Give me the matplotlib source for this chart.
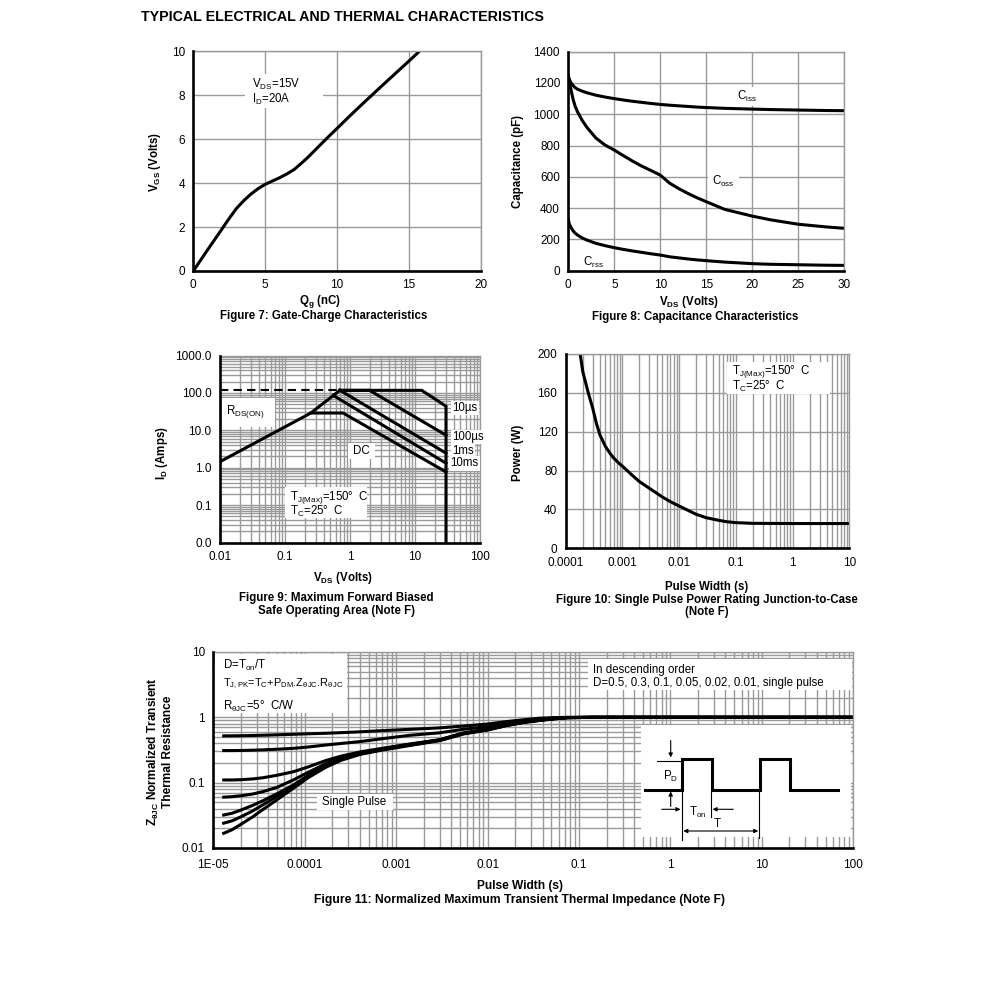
import numpy as np
import matplotlib
matplotlib.use('Agg')
import matplotlib.pyplot as plt
from matplotlib.ticker import LogLocator, NullFormatter, FixedLocator, FixedFormatter
from matplotlib.patches import Rectangle

plt.rcParams['font.family'] = ['Liberation Sans', 'DejaVu Sans']
plt.rcParams['mathtext.fontset'] = 'custom'
plt.rcParams['mathtext.rm'] = 'Liberation Sans'
plt.rcParams['mathtext.it'] = 'Liberation Sans'
plt.rcParams['mathtext.bf'] = 'Liberation Sans:bold'
plt.rcParams['mathtext.default'] = 'regular'

# ---------------- data ----------------
# Figure 7: gate charge
qg = [0, 1, 2, 2.5, 3, 3.5, 4, 4.5, 5, 5.5, 6, 6.5, 7, 7.5, 8, 8.5, 9, 9.4, 10, 11, 12, 12.4, 13, 14, 15, 15.7]
vgs = [0, 0.97, 1.92, 2.4, 2.85, 3.2, 3.5, 3.75, 3.95, 4.1, 4.25, 4.42, 4.62, 4.9, 5.2, 5.53, 5.86, 6.12,
       6.5, 7.14, 7.76, 8.0, 8.37, 8.97, 9.57, 10.0]

# Figure 8: capacitance
vds = [0, 0.1, 0.25, 0.5, 0.75, 1, 1.5, 2, 3, 4, 5, 6, 7, 8, 9, 10, 11, 12, 13, 14, 15, 17, 20, 22, 25, 28, 30]
ciss = [1245, 1225, 1205, 1185, 1170, 1160, 1148, 1138, 1122, 1110, 1100, 1091, 1083, 1076, 1069, 1063,
        1058, 1054, 1050, 1046, 1043, 1038, 1033, 1030, 1027, 1024, 1023]
coss = [1245, 1210, 1170, 1100, 1050, 1016, 962, 918, 848, 803, 771, 735, 700, 668, 640, 611,
        560, 525, 494, 466, 441, 392, 349, 325, 297, 280, 271]
crss = [330, 300, 281, 256, 240, 228, 210, 196, 175, 160, 147, 136, 126, 117, 108, 100,
        89, 82, 75, 69, 64, 55, 45, 41, 38, 35, 34]

# Figure 9: safe operating area
rds_v, rds_i = [0.01, 0.25, 0.7], [1.45, 29, 117]
lim_v, lim_i = [0.01, 0.62], [117, 117]
us10_v, us10_i = [0.7, 12.7, 30, 30], [117, 117, 44, 0.01]
us100_v, us100_i = [0.7, 2.0, 30], [117, 117, 7.4]
ms1_v, ms1_i = [0.7, 30], [117, 2.45]
ms10_v, ms10_i = [0.55, 30], [86, 1.32]
dc_v, dc_i = [0.25, 0.78, 30], [29, 29, 0.77]

# Figure 10: single pulse power
pw_t = [1.8e-4, 2e-4, 2.5e-4, 3e-4, 3.5e-4, 4e-4, 5e-4, 6e-4, 7e-4, 8.5e-4, 1e-3, 1.5e-3, 2e-3, 3e-3,
        5e-3, 7e-3, 1e-2, 1.5e-2, 2e-2, 3e-2, 5e-2, 7e-2, 0.1, 0.2, 1, 10]
pw_p = [200, 182, 160, 144, 128, 117, 105, 98, 93, 88, 84.5, 75, 68.6, 61.7,
        53, 48, 43.5, 38.5, 35, 31.5, 28.8, 27.3, 26.4, 25.7, 25.5, 25.5]

# Figure 11: transient thermal impedance
zt = [1.3e-5, 1.6e-5, 2e-5, 2.7e-5, 3.5e-5, 5e-5, 7.5e-5, 1.1e-4, 1.7e-4, 2.5e-4, 4e-4, 7e-4, 1.4e-3,
      3e-3, 5.4e-3, 1e-2, 1.6e-2, 2.5e-2, 3.7e-2, 5.5e-2, 7.5e-2, 0.15, 100]
z_d05 = [0.52, 0.521, 0.523, 0.527, 0.532, 0.54, 0.55, 0.56, 0.57, 0.583, 0.60, 0.625, 0.655,
         0.69, 0.735, 0.79, 0.86, 0.92, 0.97, 0.99, 1.0, 1.0, 1.0]
z_d03 = [0.31, 0.31, 0.311, 0.314, 0.318, 0.325, 0.335, 0.352, 0.377, 0.398, 0.425, 0.47, 0.53,
         0.58, 0.655, 0.72, 0.81, 0.88, 0.94, 0.98, 0.995, 1.0, 1.0]
z_d01 = [0.11, 0.11, 0.111, 0.114, 0.119, 0.13, 0.147, 0.175, 0.218, 0.255, 0.295, 0.335, 0.39,
         0.455, 0.575, 0.66, 0.765, 0.85, 0.91, 0.965, 0.99, 1.0, 1.0]
z_d005 = [0.06, 0.061, 0.063, 0.067, 0.073, 0.085, 0.11, 0.145, 0.195, 0.24, 0.285, 0.33, 0.385,
          0.452, 0.57, 0.655, 0.76, 0.848, 0.908, 0.962, 0.99, 1.0, 1.0]
z_d002 = [0.032, 0.034, 0.038, 0.045, 0.053, 0.068, 0.092, 0.13, 0.183, 0.23, 0.28, 0.325, 0.38,
          0.448, 0.565, 0.65, 0.755, 0.845, 0.905, 0.958, 0.99, 1.0, 1.0]
z_d001 = [0.024, 0.026, 0.030, 0.037, 0.046, 0.062, 0.087, 0.125, 0.178, 0.225, 0.275, 0.32, 0.375,
          0.445, 0.56, 0.645, 0.75, 0.84, 0.9, 0.955, 0.99, 1.0, 1.0]
z_single = [0.0168, 0.019, 0.023, 0.030, 0.039, 0.055, 0.082, 0.12, 0.172, 0.22, 0.27, 0.315, 0.37,
            0.44, 0.555, 0.64, 0.745, 0.835, 0.895, 0.95, 0.99, 1.0, 1.0]

# tick labels
f7_xt, f7_yt = [0, 5, 10, 15, 20], [0, 2, 4, 6, 8, 10]
f8_xt, f8_yt = [0, 5, 10, 15, 20, 25, 30], [0, 200, 400, 600, 800, 1000, 1200, 1400]
f9_xt, f9_xl = [0.01, 0.1, 1, 10, 100], ['0.01', '0.1', '1', '10', '100']
f9_yt, f9_yl = [0.01, 0.1, 1, 10, 100, 1000], ['0.0', '0.1', '1.0', '10.0', '100.0', '1000.0']
f10_xt, f10_xl = [1e-4, 1e-3, 1e-2, 0.1, 1, 10], ['0.0001', '0.001', '0.01', '0.1', '1', '10']
f10_yt = [0, 40, 80, 120, 160, 200]
f11_xt = [1e-5, 1e-4, 1e-3, 1e-2, 0.1, 1, 10, 100]
f11_xl = ['1E-05', '0.0001', '0.001', '0.01', '0.1', '1', '10', '100']
f11_yt, f11_yl = [0.01, 0.1, 1, 10], ['0.01', '0.1', '1', '10']

# ---------------- layout ----------------
W, H = 991, 1006
fig = plt.figure(figsize=(W / 100, H / 100), dpi=100)
GRID = '#9a9a9a'
LW = 2.2
FS = 8.3
TFS = 8.5


def add_ax(l, t, r, b):
    return fig.add_axes([l / W, 1 - b / H, (r - l) / W, (b - t) / H])


def ftext(x, y, s, **kw):
    kw.setdefault('fontsize', FS)
    return fig.text(x / W, 1 - y / H, s, **kw)


def fbox(l, t, r, b):
    fig.add_artist(Rectangle((l / W, 1 - b / H), (r - l) / W, (b - t) / H,
                             transform=fig.transFigure, fc='white', ec='none', zorder=1))


def style(ax, logx=False, logy=False):
    for s in ['top', 'right']:
        ax.spines[s].set_color(GRID)
        ax.spines[s].set_linewidth(1.0)
    for s in ['left', 'bottom']:
        ax.spines[s].set_color('black')
        ax.spines[s].set_linewidth(1.9)
        ax.spines[s].set_zorder(5)
    ax.tick_params(which='both', length=0, labelsize=TFS, pad=6)
    ax.set_axisbelow(True)
    if logx:
        ax.set_xscale('log')
        ax.xaxis.set_minor_locator(LogLocator(base=10, subs=np.arange(2, 10), numticks=100))
        ax.xaxis.set_minor_formatter(NullFormatter())
    if logy:
        ax.set_yscale('log')
        ax.yaxis.set_minor_locator(LogLocator(base=10, subs=np.arange(2, 10), numticks=100))
        ax.yaxis.set_minor_formatter(NullFormatter())


# title
ftext(141, 17, 'TYPICAL ELECTRICAL AND THERMAL CHARACTERISTICS', fontsize=10.3,
      fontweight='bold', ha='left', va='center')

# ---- Figure 7 ----
ax7 = add_ax(193.3, 51.5, 481, 271)
style(ax7)
ax7.set_xlim(0, 20)
ax7.set_ylim(0, 10)
ax7.set_xticks(f7_xt)
ax7.set_yticks(f7_yt)
ax7.grid(True, color=GRID, lw=1.0)
ax7.plot(qg, vgs, color='black', lw=LW, solid_capstyle='round', solid_joinstyle='round')
fbox(245, 74, 323, 108)
ftext(252, 84, 'V$_{DS}$=15V', ha='left', va='center', zorder=3)
ftext(252, 99, 'I$_D$=20A', ha='left', va='center', zorder=3)
ftext(320, 301, 'Q$_g$ (nC)', fontweight='bold', ha='center', va='center')
ftext(324, 316, 'Figure 7: Gate-Charge Characteristics', fontweight='bold', ha='center', va='center')
ftext(155, 162, 'V$_{GS}$ (Volts)', fontweight='bold', rotation=90, ha='center', va='center')

# ---- Figure 8 ----
ax8 = add_ax(568.3, 51.7, 844.3, 270.7)
style(ax8)
ax8.set_xlim(0, 30)
ax8.set_ylim(0, 1400)
ax8.set_xticks(f8_xt)
ax8.set_yticks(f8_yt)
ax8.grid(True, color=GRID, lw=1.0)
for c in (ciss, coss, crss):
    ax8.plot(vds, c, color='black', lw=LW, solid_joinstyle='round')
ax8.text(18.3, 1115, 'C$_{iss}$', fontsize=FS, ha='left', va='center',
         bbox=dict(fc='white', ec='none', pad=1.5))
ax8.text(15.6, 569, 'C$_{oss}$', fontsize=FS, ha='left', va='center',
         bbox=dict(fc='white', ec='none', pad=3))
ax8.text(1.63, 51, 'C$_{rss}$', fontsize=FS, ha='left', va='center')
ftext(689, 302.5, 'V$_{DS}$ (Volts)', fontweight='bold', ha='center', va='center')
ftext(695, 317, 'Figure 8: Capacitance Characteristics', fontweight='bold', ha='center', va='center')
ftext(518, 162, 'Capacitance (pF)', fontweight='bold', rotation=90, ha='center', va='center')

# ---- Figure 9 ----
ax9 = add_ax(220, 355.5, 480, 542.5)
style(ax9, logx=True, logy=True)
ax9.set_xlim(0.01, 100)
ax9.set_ylim(0.01, 1000)
ax9.xaxis.set_major_locator(FixedLocator(f9_xt))
ax9.xaxis.set_major_formatter(FixedFormatter(f9_xl))
ax9.yaxis.set_major_locator(FixedLocator(f9_yt))
ax9.yaxis.set_major_formatter(FixedFormatter(f9_yl))
ax9.grid(True, which='both', color=GRID, lw=1.0)
ax9.plot(lim_v, lim_i, color='black', lw=1.5, ls=(0, (4, 2.5)))
for vv, ii in ((rds_v, rds_i), (us10_v, us10_i), (us100_v, us100_i),
               (ms1_v, ms1_i), (ms10_v, ms10_i), (dc_v, dc_i)):
    ax9.plot(vv, ii, color='black', lw=LW, solid_joinstyle='miter')
fbox(222, 398, 275, 427)
ftext(226, 412, 'R$_{DS(ON)}$', ha='left', va='center', zorder=3)
fbox(348, 443, 375, 459)
ftext(361, 451, 'DC', ha='center', va='center', zorder=3)
fbox(285, 487, 367, 518)
ftext(289.5, 497, 'T$_{J(Max)}$=150°  C', ha='left', va='center', zorder=3)
ftext(289.5, 511.5, 'T$_C$=25°  C', ha='left', va='center', zorder=3)
lab_bbox = dict(fc='white', ec='none', pad=1)
ftext(452, 408, '10µs', ha='left', va='center', bbox=lab_bbox)
ftext(452, 437, '100µs', ha='left', va='center', bbox=lab_bbox)
ftext(452, 451.5, '1ms', ha='left', va='center', bbox=lab_bbox)
ftext(450, 463.5, '10ms', ha='left', va='center', bbox=lab_bbox)
ftext(343, 578, 'V$_{DS}$ (Volts)', fontweight='bold', ha='center', va='center')
ftext(336, 598.5, 'Figure 9: Maximum Forward Biased', fontweight='bold', ha='center', va='center')
ftext(336, 611, 'Safe Operating Area (Note F)', fontweight='bold', ha='center', va='center')
ftext(162, 453, 'I$_D$ (Amps)', fontweight='bold', rotation=90, ha='center', va='center')

# ---- Figure 10 ----
ax10 = add_ax(565.7, 354, 849.3, 548.3)
style(ax10, logx=True)
ax10.set_xlim(1e-4, 10)
ax10.set_ylim(0, 200)
ax10.xaxis.set_major_locator(FixedLocator(f10_xt))
ax10.xaxis.set_major_formatter(FixedFormatter(f10_xl))
ax10.set_yticks(f10_yt)
ax10.grid(True, axis='x', which='both', color=GRID, lw=1.0)
ax10.grid(True, axis='y', which='major', color=GRID, lw=1.0)
ax10.plot(pw_t, pw_p, color='black', lw=LW, solid_joinstyle='round')
fbox(727, 362, 830, 394)
ftext(732, 371.5, 'T$_{J(Max)}$=150°  C', ha='left', va='center', zorder=3)
ftext(732, 386.5, 'T$_C$=25°  C', ha='left', va='center', zorder=3)
ftext(707, 587, 'Pulse Width (s)', fontweight='bold', ha='center', va='center')
ftext(707, 599.5, 'Figure 10: Single Pulse Power Rating Junction-to-Case', fontweight='bold',
      ha='center', va='center')
ftext(707, 612, '(Note F)', fontweight='bold', ha='center', va='center')
ftext(518, 453, 'Power (W)', fontweight='bold', rotation=90, ha='center', va='center')

# ---- Figure 11 ----
ax11 = add_ax(213.3, 652, 853.3, 848)
style(ax11, logx=True, logy=True)
ax11.set_xlim(1e-5, 100)
ax11.set_ylim(0.01, 10)
ax11.xaxis.set_major_locator(FixedLocator(f11_xt))
ax11.xaxis.set_major_formatter(FixedFormatter(f11_xl))
ax11.yaxis.set_major_locator(FixedLocator(f11_yt))
ax11.yaxis.set_major_formatter(FixedFormatter(f11_yl))
ax11.tick_params(axis='x', pad=8)
ax11.grid(True, which='both', color=GRID, lw=1.0)
for z in (z_d05, z_d03, z_d01, z_d005, z_d002, z_d001, z_single):
    ax11.plot(zt, z, color='black', lw=LW, solid_joinstyle='round')

fbox(215, 654, 347, 713)
ftext(223, 665, 'D=T$_{on}$/T', ha='left', va='center', zorder=3)
ftext(223, 684, 'T$_{J,PK}$=T$_C$+P$_{DM}$.Z$_{θJC}$.R$_{θJC}$', fontsize=7.9,
      ha='left', va='center', zorder=3)
ftext(223, 706, 'R$_{θJC}$=5°  C/W', ha='left', va='center', zorder=3)
fbox(588, 659, 852, 690)
ftext(593, 670, 'In descending order', ha='left', va='center', zorder=3)
ftext(593, 683, 'D=0.5, 0.3, 0.1, 0.05, 0.02, 0.01, single pulse', ha='left', va='center', zorder=3)
fbox(317, 794, 393, 810)
ftext(322, 802, 'Single Pulse', ha='left', va='center', zorder=3)

# pulse diagram inset (schematic)
pulse_x = [645, 681.7, 681.7, 711.7, 711.7, 760, 760, 790, 790, 838.3]
pulse_y = [790, 790, 759.3, 759.3, 790, 790, 759.3, 759.3, 790, 790]
axi = add_ax(641, 725, 851, 837)
axi.set_xlim(641, 851)
axi.set_ylim(837, 725)
axi.set_xticks([])
axi.set_yticks([])
for s in axi.spines.values():
    s.set_visible(False)
axi.set_facecolor('white')
axi.plot(pulse_x, pulse_y, color='black', lw=2.2, solid_joinstyle='miter')
thin = dict(color='black', lw=0.8, clip_on=False)
axi.plot([656.7, 681.7], [760.5, 760.5], **thin)
axi.plot([681.7, 681.7], [790, 840], **thin)
axi.plot([711.0, 711.0], [791.7, 816.7], **thin)
axi.plot([759.3, 759.3], [791.7, 837.5], **thin)
ap = dict(arrowstyle='-|>', color='black', lw=0.8, mutation_scale=6, shrinkA=0, shrinkB=0)
axi.annotate('', xy=(670.7, 757.5), xytext=(670.7, 740.5), arrowprops=ap)
axi.annotate('', xy=(670.7, 791.5), xytext=(670.7, 806.5), arrowprops=ap)
axi.annotate('', xy=(680.5, 809.3), xytext=(661.7, 809.3), arrowprops=ap)
axi.annotate('', xy=(712.5, 809.3), xytext=(733.3, 809.3), arrowprops=ap)
axi.annotate('', xy=(758.3, 831), xytext=(683.3, 831),
             arrowprops=dict(arrowstyle='<|-|>', color='black', lw=0.8, mutation_scale=6,
                             shrinkA=0, shrinkB=0))
axi.text(670.5, 776.5, 'P$_D$', fontsize=FS, ha='center', va='center')
axi.text(697.5, 812, 'T$_{on}$', fontsize=FS, ha='center', va='center')
axi.text(717.5, 824, 'T', fontsize=FS, ha='center', va='center')

ftext(520, 885.5, 'Pulse Width (s)', fontweight='bold', fontsize=8.6, ha='center', va='center')
ftext(520, 899.5, 'Figure 11: Normalized Maximum Transient Thermal Impedance (Note F)',
      fontweight='bold', fontsize=8.7, ha='center', va='center')
ftext(160, 752, 'Z$_{θJC}$ Normalized Transient\nThermal Resistance', fontweight='bold', fontsize=8.6,
      rotation=90, ha='center', va='center', linespacing=1.05)

fig.savefig('out.png', dpi=100)
